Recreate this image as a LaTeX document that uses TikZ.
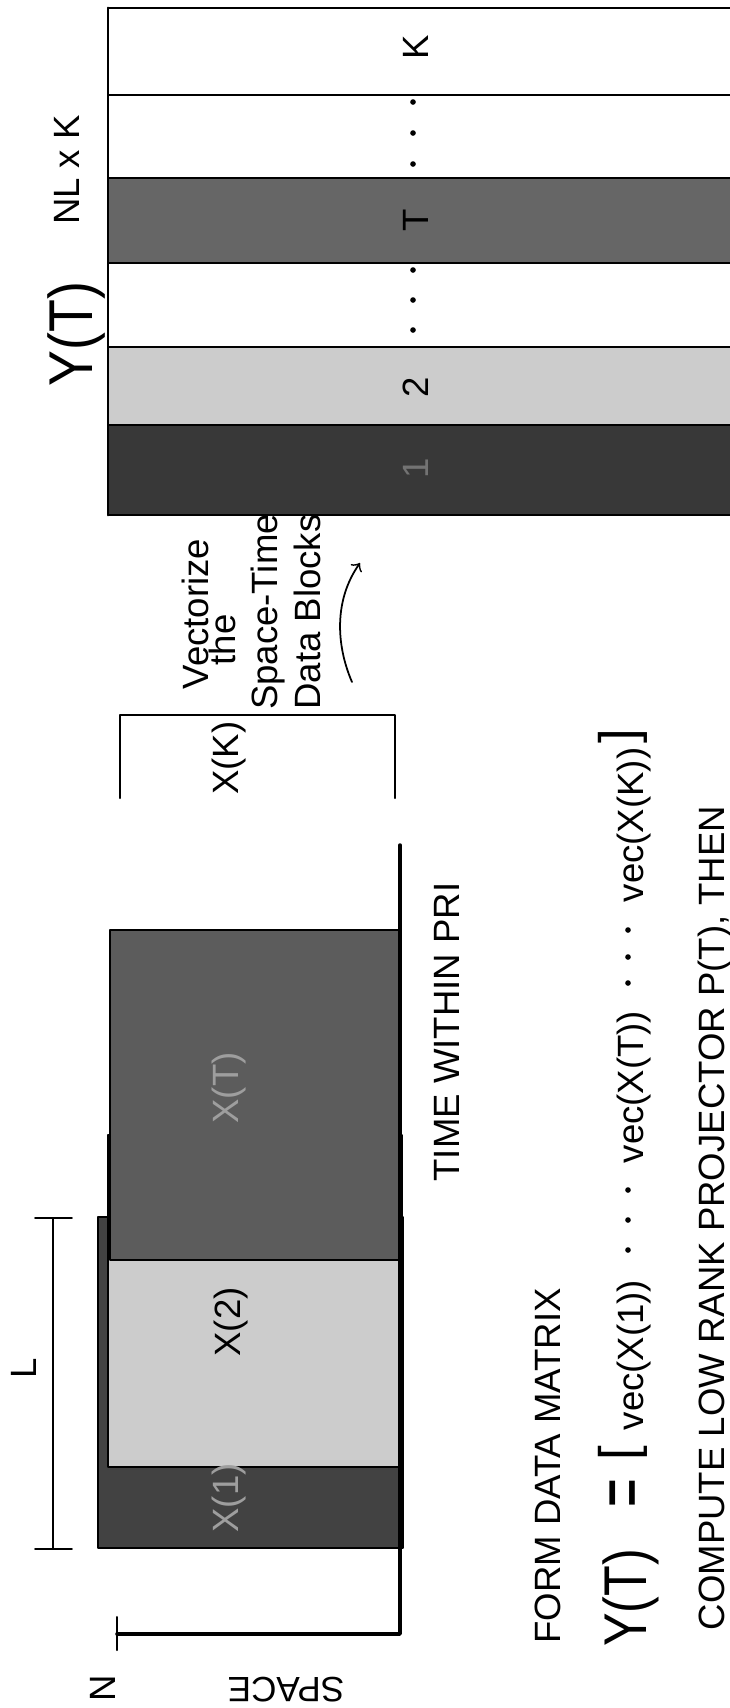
\documentclass[tikz,border=0pt]{standalone}
\usepackage{fontspec}
\setmainfont{Liberation Sans}
\begin{document}
\begin{tikzpicture}[x=0.01cm,y=-0.01cm,line cap=round,line join=round,
  txt/.style={rotate=90,anchor=base,font=\fontsize{10.4}{12}\selectfont},
  faint/.style={txt,text=black!38},
  big/.style={rotate=90,anchor=base},
  blk/.style={draw=black,line width=0.55pt}]
  \useasboundingbox (0,0) rectangle (730,1708);
  \foreach \ya/\yb/\tone in {8/95/white,95/178/white,178/263/black!60,263/347/white,347/425/black!20,425/515/black!78}{
    \draw[blk,fill=\tone] (108,\ya) rectangle (760,\yb);}
  \draw[line width=0.8pt] (108,8) -- (108,515);
  \node[txt] (colK) at (428,47) {K};
  \node[txt] (colT) at (428,220) {T};
  \node[txt] (col2) at (428,387) {2};
  \node[txt,text=black!55] (col1) at (428,468) {1};
  \foreach \yy in {102,133,164,270,300,330}{\fill (413,\yy) circle[radius=0.8pt];}
  \node[big] (ylabel) at (92,334) {\scalebox{1}[1.15]{\fontsize{15.3}{18}\selectfont Y(T)}};
  \node[txt] (dims) at (79,170) {NL x K};
  \node[txt] (vec1) at (208,614) {Vectorize};
  \node[txt] (vec2) at (235,640) {the};
  \node[txt] (vec3) at (277,612) {Space-Time};
  \node[txt] (vec4) at (320,612) {Data Blocks};
  \coordinate (vfrom) at (352,682);
  \coordinate (vto) at (360,563);
  \draw[->,line width=0.5pt] (vfrom) .. controls (336,645) and (334,600) .. (vto);
  \draw[line width=0.6pt] (120,798) -- (120,715) -- (395,715) -- (395,798);
  \node[txt] (xK) at (238,758) {X(K)};
  \draw[blk,fill=black!74] (98,1217) rectangle (403,1548);
  \draw[blk,fill=black!20] (108,1135) rectangle (402,1467);
  \draw[blk,fill=black!64] (110,930) rectangle (400,1260);
  \node[faint] (x1) at (238,1498) {X(1)};
  \node[txt] (x2) at (240,1322) {X(2)};
  \node[faint] (xT) at (238,1088) {X(T)};
  \draw[line width=1pt] (400,845) -- (400,1634) -- (117,1634);
  \draw[line width=0.6pt] (117,1617) -- (117,1650);
  \draw[line width=0.5pt] (53,1218) -- (53,1549);
  \draw[line width=0.5pt] (35,1218) -- (72,1218);
  \draw[line width=0.5pt] (35,1549) -- (72,1549);
  \node[txt] (len) at (37,1368) {L};
  \node[txt] (timelbl) at (459,1032) {TIME WITHIN PRI};
  \node[rotate=180,anchor=base,font=\fontsize{10}{12}\selectfont] (spacelbl) at (286,1677) {SPACE};
  \node[txt] (nlbl) at (115,1688) {N};
  \node[txt] (form) at (560,1466) {FORM DATA MATRIX};
  \node[big] (eqY) at (646,1598) {\scalebox{1}[1.2]{\fontsize{14.3}{17}\selectfont Y(T)}};
  \node[rotate=90] (eqeq) at (629,1493) {\scalebox{1}[1.6]{\fontsize{14}{17}\selectfont =}};
  \node[rotate=90] (lbrack) at (623,1453) {\fontsize{15}{18}\selectfont [};
  \node[txt] (v1) at (643,1355) {vec(X(1))};
  \node[txt] (vT) at (643,1087) {vec(X(T))};
  \node[txt] (vK) at (643,825) {vec(X(K))};
  \node[rotate=90] (rbrack) at (623,736) {\fontsize{15}{18}\selectfont ]};
  \foreach \yy in {1190,1220,1250,930,957,983}{\fill (628,\yy) circle[radius=0.8pt];}
  \node[txt] (compute) at (724,1218) {COMPUTE LOW RANK PROJECTOR P(T), THEN};
\end{tikzpicture}
\end{document}
